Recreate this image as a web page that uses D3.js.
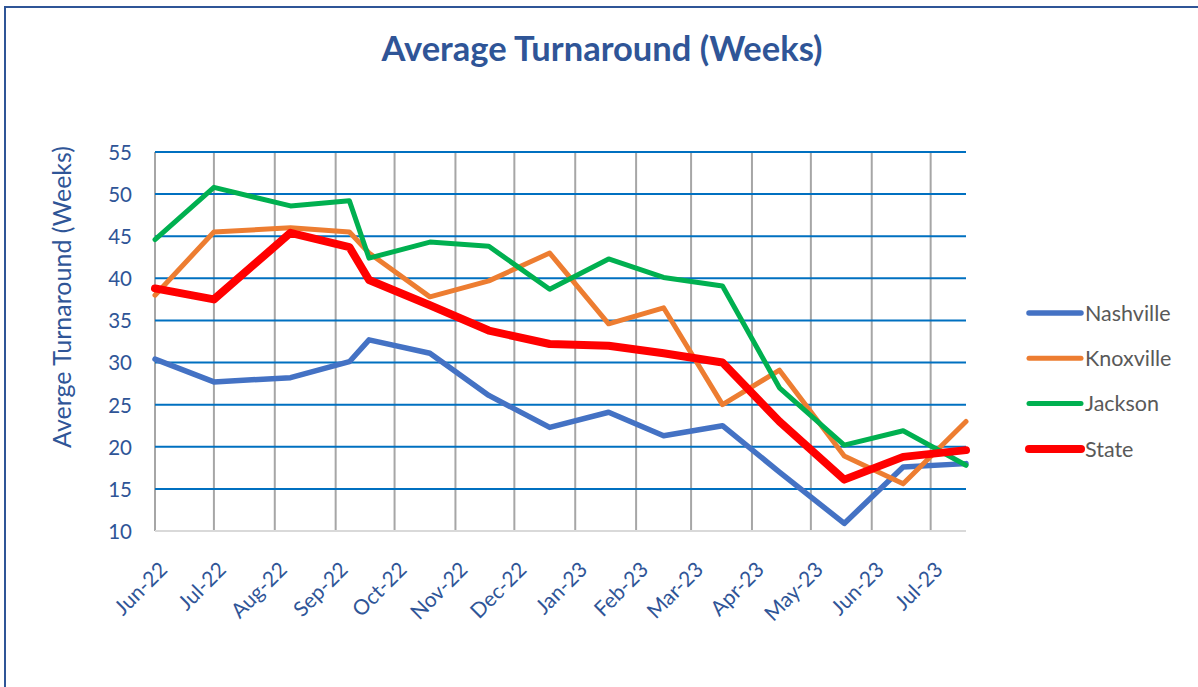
<!DOCTYPE html>
<html>
<head>
<meta charset="utf-8">
<script src="https://cdn.jsdelivr.net/npm/d3@7"></script>
<style>
  body { margin: 0; background: #fff; }
  svg { display: block; font-family: Lato, "Noto Sans", sans-serif; }
  svg text { font-family: Lato, "Noto Sans", sans-serif; }
</style>
</head>
<body>
<div id="chart"></div>
<script>
// data
var dates = ["2022-06-01", "2022-07-01", "2022-08-09", "2022-09-08", "2022-09-18",
  "2022-10-19", "2022-11-18", "2022-12-19", "2023-01-18", "2023-02-15",
  "2023-03-17", "2023-04-15", "2023-05-18", "2023-06-17", "2023-07-19"];
var nashville = [30.4, 27.7, 28.2, 30.1, 32.7, 31.1, 26.1, 22.3, 24.1, 21.3, 22.5, 17.0, 10.9, 17.6, 18.0];
var knoxville = [38.0, 45.5, 46.0, 45.5, 43.0, 37.8, 39.7, 43.0, 34.6, 36.5, 25.0, 29.1, 18.9, 15.6, 23.0];
var jackson   = [44.6, 50.8, 48.6, 49.2, 42.4, 44.3, 43.8, 38.7, 42.3, 40.1, 39.1, 27.0, 20.2, 21.9, 17.8];
var state     = [38.8, 37.5, 45.4, 43.7, 39.8, 36.8, 33.8, 32.2, 32.0, 31.1, 30.0, 23.0, 16.1, 18.8, 19.6];
var yTicks = [10, 15, 20, 25, 30, 35, 40, 45, 50, 55];

var W = 1198, H = 687;
var m = { top: 152, right: 232, bottom: 156, left: 155 };

var parse = d3.timeParse("%Y-%m-%d");
var days = dates.map(parse);

var series = [
  { name: "Nashville", values: nashville, colour: "#4472C4", width: 5.5 },
  { name: "Knoxville", values: knoxville, colour: "#ED7D31", width: 5 },
  { name: "Jackson",   values: jackson,   colour: "#00B050", width: 5 },
  { name: "State",     values: state,     colour: "#FF0000", width: 8 }
];

var svg = d3.select("#chart").append("svg")
  .attr("width", W)
  .attr("height", H);

// outer frame (only left and top edges are visible in the picture)
svg.append("path")
  .attr("d", "M5,687 L5,7 L1198,7")
  .attr("fill", "none")
  .attr("stroke", "#2F5597")
  .attr("stroke-width", 2);

var x = d3.scaleTime()
  .domain([days[0], days[days.length - 1]])
  .range([m.left, W - m.right]);

var y = d3.scaleLinear()
  .domain([10, 55])
  .range([H - m.bottom, m.top]);

var months = d3.timeMonth.range(days[0], days[days.length - 1]);

// vertical month gridlines
svg.append("g").selectAll("line")
  .data(months)
  .enter().append("line")
  .attr("x1", function(d) { return x(d); })
  .attr("x2", function(d) { return x(d); })
  .attr("y1", y(55))
  .attr("y2", y(10))
  .attr("stroke", "#A6A6A6")
  .attr("stroke-width", 2);

// horizontal gridlines
svg.append("g").selectAll("line")
  .data(yTicks.filter(function(t) { return t > 10; }))
  .enter().append("line")
  .attr("x1", m.left)
  .attr("x2", W - m.right)
  .attr("y1", function(d) { return y(d); })
  .attr("y2", function(d) { return y(d); })
  .attr("stroke", "#0070C0")
  .attr("stroke-width", 2);

// bottom axis line
svg.append("line")
  .attr("x1", m.left).attr("x2", W - m.right)
  .attr("y1", y(10)).attr("y2", y(10))
  .attr("stroke", "#D9D9D9")
  .attr("stroke-width", 2);

// y tick labels
var yAxis = svg.append("g")
  .attr("transform", "translate(" + (m.left - 23) + ",0)")
  .call(d3.axisLeft(y).tickValues(yTicks).tickSize(0).tickPadding(0))
  .attr("font-family", null)
  .attr("font-size", null);
yAxis.select(".domain").remove();
yAxis.selectAll("text")
  .attr("fill", "#2F5597")
  .style("font-size", "20.5px")
  .attr("dy", "0.36em");

// x tick labels, rotated
var fmt = d3.timeFormat("%b-%y");
var xAxis = svg.append("g")
  .attr("transform", "translate(0," + y(10) + ")")
  .call(d3.axisBottom(x).tickValues(months).tickFormat(fmt).tickSize(0).tickPadding(0))
  .attr("font-family", null)
  .attr("font-size", null);
xAxis.select(".domain").remove();
xAxis.selectAll("text")
  .attr("fill", "#2F5597")
  .style("font-size", "21px")
  .attr("text-anchor", "end")
  .attr("dy", 0)
  .attr("y", 0)
  .attr("transform", "translate(13,40) rotate(-45)");

// lines
var line = d3.line()
  .x(function(d, i) { return x(days[i]); })
  .y(function(d) { return y(d); });

svg.append("g").selectAll("path")
  .data(series)
  .enter().append("path")
  .attr("d", function(s) { return line(s.values); })
  .attr("fill", "none")
  .attr("stroke", function(s) { return s.colour; })
  .attr("stroke-width", function(s) { return s.width; })
  .attr("stroke-linejoin", "round")
  .attr("stroke-linecap", "round");

// title
svg.append("text")
  .attr("x", 602)
  .attr("y", 61)
  .attr("text-anchor", "middle")
  .attr("fill", "#2F5597")
  .style("font-size", "34.5px")
  .style("font-weight", "bold")
  .text("Average Turnaround (Weeks)");

// y axis title
svg.append("text")
  .attr("transform", "translate(71,297) rotate(-90)")
  .attr("text-anchor", "middle")
  .attr("fill", "#2F5597")
  .style("font-size", "25px")
  .text("Averge Turnaround (Weeks)");

// legend
var legend = svg.append("g").selectAll("g")
  .data(series)
  .enter().append("g")
  .attr("transform", function(d, i) { return "translate(1029," + (313 + i * 45.3) + ")"; });

legend.append("line")
  .attr("x1", 0).attr("x2", 52)
  .attr("stroke", function(s) { return s.colour; })
  .attr("stroke-width", function(s) { return s.width; })
  .attr("stroke-linecap", "round");

legend.append("text")
  .attr("x", 56)
  .attr("dy", "0.36em")
  .attr("fill", "#595959")
  .style("font-size", "21.5px")
  .text(function(s) { return s.name; });
</script>
</body>
</html>
